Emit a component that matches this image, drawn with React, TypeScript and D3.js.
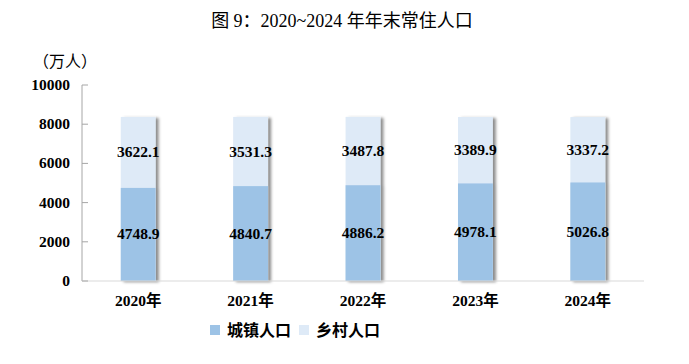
import React from "react";
import * as d3 from "d3";

const years = ["2020年", "2021年", "2022年", "2023年", "2024年"];
const urban = [4748.9, 4840.7, 4886.2, 4978.1, 5026.8];
const rural = [3622.1, 3531.3, 3487.8, 3389.9, 3337.2];
const yTicks = [0, 2000, 4000, 6000, 8000, 10000];
const seriesNames = ["城镇人口", "乡村人口"];
const colors = ["#9DC3E6", "#DEEAF7"];

const W = 689;
const H = 364;
const M = { left: 82, right: 45, top: 85, bottom: 83 };

export default function App() {
  const x = d3.scaleBand<string>().domain(years).range([M.left, W - M.right]).paddingInner(0.69).paddingOuter(0.345);
  const y = d3.scaleLinear().domain([0, 10000]).range([H - M.bottom, M.top]);
  const serif = "'Liberation Serif', 'Times New Roman', 'Noto Sans CJK SC', serif";
  const bw = x.bandwidth();
  return (
    <div style={{ position: "absolute", left: 0, top: 0 }}>
      <svg width={W} height={H} style={{ display: "block" }}>
        <defs>
          <filter id="sh" x="-20%" y="-5%" width="150%" height="115%">
            <feDropShadow dx="3" dy="1" stdDeviation="1.6" floodColor="#000" floodOpacity="0.45" />
          </filter>
        </defs>
        <rect width={W} height={H} fill="#fff" />
        <text x={342} y={27} textAnchor="middle" fontFamily={serif} fontSize={18} fill="#000">
          图 9：2020~2024 年年末常住人口
        </text>
        <text x={33} y={67} fontFamily="'Noto Sans CJK SC', sans-serif" fontSize={16} fill="#000">
          （万人）
        </text>
        {years.map((yr, i) => {
          const x0 = x(yr)!;
          const yu = y(urban[i]);
          const yr2 = y(urban[i] + rural[i]);
          return (
            <g key={yr}>
              <g filter="url(#sh)">
                <rect x={x0} y={yr2} width={bw} height={y(0) - yr2} fill={colors[1]} />
                <rect x={x0} y={yu} width={bw} height={y(0) - yu} fill={colors[0]} />
              </g>
              <text x={x0 + bw / 2} y={(yu + y(0)) / 2 + 5} textAnchor="middle" fontFamily={serif} fontWeight="bold" fontSize={15.5} fill="#000">
                {urban[i].toFixed(1)}
              </text>
              <text x={x0 + bw / 2} y={(yr2 + yu) / 2 + 5} textAnchor="middle" fontFamily={serif} fontWeight="bold" fontSize={15.5} fill="#000">
                {rural[i].toFixed(1)}
              </text>
              <text x={x0 + bw / 2} y={306} textAnchor="middle" fontFamily={serif} fontWeight="bold" fontSize={15.5} fill="#000">
                {yr}
              </text>
            </g>
          );
        })}
        <line x1={M.left} x2={M.left} y1={y(10000)} y2={y(0)} stroke="#A6A6A6" strokeWidth={1} />
        <line x1={M.left} x2={W - M.right} y1={y(0)} y2={y(0)} stroke="#D9D9D9" strokeWidth={1} />
        {yTicks.map((t) => (
          <g key={t}>
            <line x1={M.left} x2={M.left + 6} y1={y(t)} y2={y(t)} stroke="#A6A6A6" />
            <text x={70} y={y(t) + 5} textAnchor="end" fontFamily={serif} fontWeight="bold" fontSize={15.5} fill="#000">
              {t}
            </text>
          </g>
        ))}
        {seriesNames.map((n, i) => {
          const lx = i === 0 ? 210 : 299;
          return (
            <g key={n}>
              <rect x={lx} y={325} width={10} height={10} fill={colors[i]} />
              <text x={lx + 17} y={336} fontFamily="'Noto Sans CJK SC', sans-serif" fontWeight="bold" fontSize={16} fill="#000">
                {n}
              </text>
            </g>
          );
        })}
      </svg>
    </div>
  );
}
